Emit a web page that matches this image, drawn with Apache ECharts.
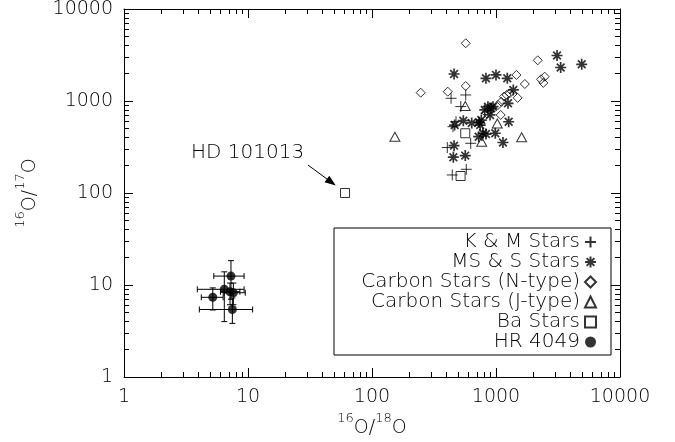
<!DOCTYPE html>
<html><head><meta charset="utf-8">
<script src="https://cdn.jsdelivr.net/npm/echarts@6/dist/echarts.min.js"></script>
<style>html,body{margin:0;padding:0;background:#fff}#c{width:675px;height:442px}</style>
</head><body><div id="c"></div>
<script>
// ---- data (x = 16O/18O, y = 16O/17O) ----
const kmStars = [[434,1070],[570,1163],[520,870],[476,595],[450,526],[625,347],[405,312],[444,157],[576,181]];
const msStars = [[459,1965],[830,1766],[1000,1919],[1233,1766],[1379,1318],[3105,3124],[3324,2312],[4912,2505],
  [1250,944],[946,867],[861,867],[811,799],[916,833],[895,705],[761,621],[1265,595],[545,611],[637,577],
  [730,589],[746,548],[464,548],[785,446],[725,409],[830,437],[987,446],[1138,354],[459,327],[453,245],[565,255]];
const carbonN = [[570,4237],[247,1231],[408,1263],[570,1455],[1460,1919],[2170,2768],[1708,1530],[1495,1081],
  [2306,1722],[2470,1837],[2409,1574],[1220,1163],[1289,1212],[1160,1114],[1104,982],[1038,905],[1091,705],[841,735]];
const carbonJ = [[153,409],[565,883],[1024,570],[767,361],[1610,404]];
const baStars = [[565,446],[518,153],[60.6,100]];
const hr4049 = [[7.29,12.5],[6.44,8.98],[5.2,7.35],[7.16,8.45],[7.62,8.24],[7.48,5.42]];
// [xLow, xHigh, yLow, yHigh]
const hr4049Err = [[5.3,9.3,7.0,18.4],[3.9,9.3,4.0,13.9],[4.2,6.3,5.35,9.3],[6.0,8.6,6.1,10.5],[6.4,9.5,6.1,10.5],[4.05,10.9,3.83,7.22]];
const majorTicks = [1,10,100,1000,10000];
const minorTicks = [2,3,4,5,6,7,8,9,20,30,40,50,60,70,80,90,200,300,400,500,600,700,800,900,2000,3000,4000,5000,6000,7000,8000,9000];
const seriesNames = ['K & M Stars','MS & S Stars','Carbon Stars (N-type)','Carbon Stars (J-type)','Ba Stars','HR 4049'];
const hdLabel = 'HD 101013';
const hdArrow = [[30.5,201],[47,131]];

const FONT = 'DejaVu Sans';
const WEIGHT = 200;
const black = '#000';
const gridRect = {left:124, right:55, top:9, bottom:65, outerBoundsMode:'none', containLabel:false};
const nameRich = {
  s:{fontSize:13, fontFamily:FONT, fontWeight:WEIGHT, color:black, lineHeight:14, verticalAlign:'top'},
  b:{fontSize:19, fontFamily:FONT, fontWeight:WEIGHT, color:black, lineHeight:26, verticalAlign:'bottom'}
};

function majorAxis(pos, showLabel, name, nameGap) {
  const a = {
    type:'log', logBase:10, gridIndex:0, position:pos, min:1, max:10000,
    axisLine:{show:true, onZero:false, lineStyle:{color:black, width:1}},
    axisTick:{show:true, inside:true, length:9, customValues:majorTicks, lineStyle:{color:black, width:1}},
    axisLabel:{show:showLabel, customValues:majorTicks, formatter:v=>String(Math.round(v)), margin:11,
      fontFamily:FONT, fontWeight:WEIGHT, fontSize:19, color:black},
    splitLine:{show:false}, minorTick:{show:false}
  };
  if (name) {
    a.name = name; a.nameLocation = 'middle'; a.nameGap = nameGap;
    a.nameTextStyle = {rich:nameRich};
  }
  return a;
}
function minorAxis(pos) {
  return {
    type:'log', logBase:10, gridIndex:1, position:pos, min:1, max:10000,
    axisLine:{show:false, onZero:false},
    axisTick:{show:true, inside:true, length:5, customValues:minorTicks, lineStyle:{color:black, width:1}},
    axisLabel:{show:false}, splitLine:{show:false}
  };
}

const plusPath = 'path://M0,5H10M5,0V10';
const starPath = 'path://M0,5H10M5,0V10M1.5,1.5L8.5,8.5M1.5,8.5L8.5,1.5';
const hollow = (w)=>({color:'rgba(0,0,0,0)', borderColor:black, borderWidth:w});

const option = {
  animation:false,
  backgroundColor:'#fff',
  grid:[Object.assign({}, gridRect), Object.assign({}, gridRect)],
  xAxis:[
    majorAxis('bottom',true,'{s|16}{b|O/}{s|18}{b|O}',33),
    majorAxis('top',false),
    minorAxis('bottom'), minorAxis('top')
  ],
  yAxis:[
    majorAxis('left',true,'{s|16}{b|O/}{s|17}{b|O}',84),
    majorAxis('right',false),
    minorAxis('left'), minorAxis('right')
  ],
  legend:{
    data:seriesNames, orient:'vertical', align:'right', right:78, top:232,
    itemGap:0, itemWidth:11, itemHeight:11, padding:0, selectedMode:false,
    textStyle:{fontFamily:FONT, fontWeight:WEIGHT, fontSize:20, color:black, lineHeight:19}
  },
  graphic:[
    {type:'rect', shape:{x:334, y:228, width:277, height:127}, style:{fill:'none', stroke:black, lineWidth:1}, z:1},
    {type:'text', x:191, y:153, style:{text:hdLabel, font:'200 20px "DejaVu Sans"', fill:black, verticalAlign:'middle', align:'left'}}
  ],
  series:[
    {name:seriesNames[0], type:'scatter', data:kmStars, symbol:plusPath, symbolSize:11, itemStyle:hollow(1)},
    {name:seriesNames[1], type:'scatter', data:msStars, symbol:starPath, symbolSize:11, itemStyle:hollow(1.7)},
    {name:seriesNames[2], type:'scatter', data:carbonN, symbol:'diamond', symbolSize:[9,9], itemStyle:hollow(1)},
    {name:seriesNames[3], type:'scatter', data:carbonJ, symbol:'triangle', symbolSize:[10,9], itemStyle:hollow(1)},
    {name:seriesNames[4], type:'scatter', data:baStars, symbol:'rect', symbolSize:9, itemStyle:hollow(1),
      markLine:{silent:true, symbol:['none','triangle'], symbolSize:[8,11], animation:false,
        lineStyle:{color:black, width:1, type:'solid'}, label:{show:false},
        data:[[{coord:hdArrow[0]},{coord:hdArrow[1]}]]}},
    {name:'HR 4049 errors', type:'custom', z:2,
      data:hr4049.map((p,i)=>[p[0],p[1]].concat(hr4049Err[i])),
      encode:{x:[0,2,3], y:[1,4,5]},
      renderItem:function(params, api){
        const x=api.value(0), y=api.value(1);
        const l=api.coord([api.value(2),y]), r=api.coord([api.value(3),y]);
        const b=api.coord([x,api.value(4)]), t=api.coord([x,api.value(5)]);
        const c=3, st={stroke:black, lineWidth:1};
        const L=(x1,y1,x2,y2)=>({type:'line', shape:{x1,y1,x2,y2}, style:st});
        return {type:'group', children:[
          L(l[0],l[1],r[0],r[1]), L(l[0],l[1]-c,l[0],l[1]+c), L(r[0],r[1]-c,r[0],r[1]+c),
          L(b[0],b[1],t[0],t[1]), L(b[0]-c,b[1],b[0]+c,b[1]), L(t[0]-c,t[1],t[0]+c,t[1])
        ]};
      }},
    {name:seriesNames[5], type:'scatter', data:hr4049, symbol:'circle', symbolSize:9, z:3, itemStyle:{color:black}}
  ]
};
const chart = echarts.init(document.getElementById('c'), null, {renderer:'canvas'});
chart.setOption(option);
</script>
</body></html>
